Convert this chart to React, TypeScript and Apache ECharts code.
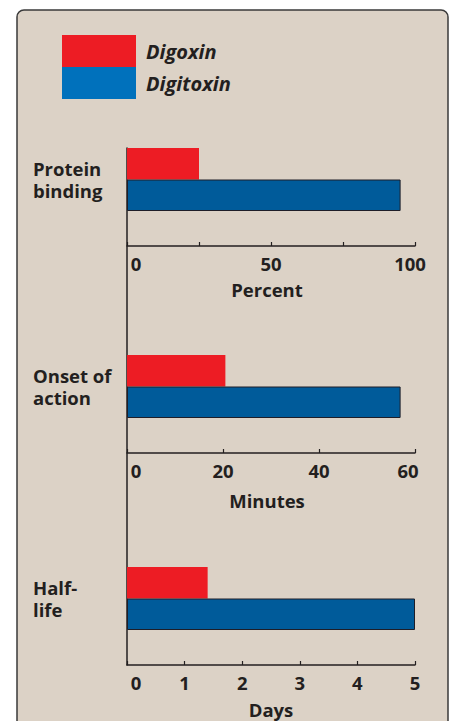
import React, { useEffect, useRef } from "react";
import * as echarts from "echarts";

const categories = ["Protein\nbinding", "Onset of\naction", "Half-\nlife"];
const digoxin = [25, 20.5, 1.4];
const digitoxin = [95, 57, 5];
const axisMax = [100, 60, 5];
const axisInterval = [25, 20, 1];
const labelledTicks = [[0, 50, 100], [0, 20, 40, 60], [0, 1, 2, 3, 4, 5]];
const axisNames = ["Percent", "Minutes", "Days"];
const seriesNames = ["Digoxin", "Digitoxin"];

const FONT = "'Open Sans', 'Noto Sans', sans-serif";
const TEXT = "#231f20";
const RED = "#ed1c24";
const BLUE_BAR = "#005b9a";
const BLUE_LEGEND = "#0071bc";

export default function App() {
  const ref = useRef<HTMLDivElement>(null);
  useEffect(() => {
    if (!ref.current) return;
    const chart = echarts.init(ref.current, undefined, { renderer: "svg" });
    const tops = [148, 355, 567];
    const barH = 63;
    const nameGaps = [34, 38, 35];
    const namePadRight = [8, 8, 0];
    const maxPad = [10, 14, 0];
    const catPadBottom = [0, 12, 8];
    const grids: any[] = tops.map((t) => ({ left: 127, right: 36, top: t, height: barH }));
    grids.push({ left: 127, right: 36, top: 148, bottom: 56 });
    const xAxes: any[] = categories.map((_, i) => ({
      gridIndex: i,
      type: "value",
      min: 0,
      max: axisMax[i],
      interval: axisInterval[i],
      offset: 35,
      splitLine: { show: false },
      axisLine: { show: true, lineStyle: { color: TEXT, width: 1.5 } },
      axisTick: { show: true, inside: true, length: 4, lineStyle: { color: TEXT, width: 1.2 } },
      axisLabel: {
        margin: 8,
        formatter: (v: number) => {
          if (!labelledTicks[i].includes(v)) return "";
          if (v === 0) return "{a|0}";
          if (v === axisMax[i]) return "{b|" + v + "}";
          return "{c|" + v + "}";
        },
        rich: {
          a: { fontFamily: FONT, fontWeight: "bold", fontSize: 18.5, color: TEXT, padding: [0, 0, 0, 18] },
          b: { fontFamily: FONT, fontWeight: "bold", fontSize: 18.5, color: TEXT, padding: [0, maxPad[i], 0, 0] },
          c: { fontFamily: FONT, fontWeight: "bold", fontSize: 18.5, color: TEXT },
        },
      },
      name: axisNames[i],
      nameLocation: "middle",
      nameGap: nameGaps[i],
      nameTextStyle: {
        fontFamily: FONT,
        fontWeight: "bold",
        fontSize: 18.5,
        color: TEXT,
        padding: [0, namePadRight[i], 0, 0],
      },
    }));
    xAxes.push({ gridIndex: 3, type: "value", min: 0, max: 1, show: false });
    const yAxes: any[] = categories.map((c, i) => ({
      gridIndex: i,
      type: "category",
      data: [c],
      axisLine: { show: false },
      axisTick: { show: false },
      axisLabel: {
        align: "left",
        margin: 94,
        fontFamily: FONT,
        fontWeight: "bold",
        fontSize: 18.5,
        lineHeight: 22,
        color: TEXT,
        padding: [0, 0, catPadBottom[i], 0],
      },
    }));
    yAxes.push({
      gridIndex: 3,
      type: "value",
      min: 0,
      max: 1,
      axisLine: { show: true, lineStyle: { color: TEXT, width: 1.5 } },
      axisTick: { show: false },
      axisLabel: { show: false },
      splitLine: { show: false },
    });
    const series: any[] = [];
    categories.forEach((_, i) => {
      series.push({
        name: seriesNames[0],
        type: "bar",
        xAxisIndex: i,
        yAxisIndex: i,
        data: [digoxin[i]],
        barWidth: "50%",
        barGap: "0%",
        itemStyle: { color: RED },
      });
      series.push({
        name: seriesNames[1],
        type: "bar",
        xAxisIndex: i,
        yAxisIndex: i,
        data: [digitoxin[i]],
        barWidth: "50%",
        barGap: "0%",
        itemStyle: { color: BLUE_BAR, borderColor: "#1e1e28", borderWidth: 1 },
      });
    });
    chart.setOption({
      animation: false,
      backgroundColor: "#ffffff",
      graphic: [
        {
          type: "rect",
          z: -10,
          shape: { x: 17, y: 10, width: 431, height: 740, r: 7 },
          style: { fill: "#dcd2c6", stroke: "#3a3a3a", lineWidth: 1.5 },
        },
      ],
      legend: {
        orient: "vertical",
        left: 62,
        top: 35,
        padding: 0,
        itemWidth: 74,
        itemHeight: 32,
        itemGap: 0,
        icon: "rect",
        selectedMode: false,
        textStyle: {
          fontFamily: FONT,
          fontWeight: "bold",
          fontStyle: "italic",
          fontSize: 20,
          color: TEXT,
          padding: [0, 0, 0, 5],
        },
        data: [
          { name: seriesNames[0], itemStyle: { color: RED, borderWidth: 0 } },
          { name: seriesNames[1], itemStyle: { color: BLUE_LEGEND, borderWidth: 0 } },
        ],
      },
      grid: grids,
      xAxis: xAxes,
      yAxis: yAxes,
      series,
    });
    return () => chart.dispose();
  }, []);
  return (
    <div
      ref={ref}
      style={{ position: "fixed", left: 0, top: 0, width: 451, height: 721 }}
    />
  );
}
